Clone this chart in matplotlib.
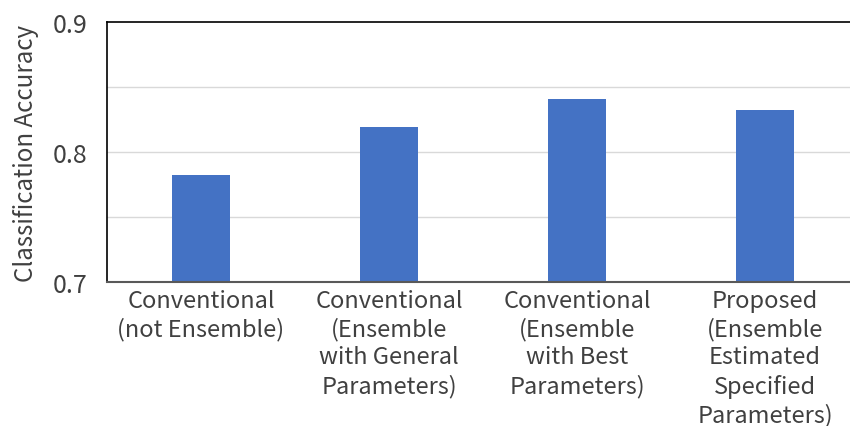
import matplotlib
matplotlib.use('Agg')
import matplotlib.pyplot as plt

plt.rcParams['font.family'] = ['Noto Sans CJK JP', 'DejaVu Sans']

# データ
categories = [
    'Conventional\n(not Ensemble)',
    'Conventional\n(Ensemble\nwith General\nParameters)',
    'Conventional\n(Ensemble\nwith Best\nParameters)',
    'Proposed\n(Ensemble\nEstimated\nSpecified\nParameters)',
]
accuracy = [0.782, 0.819, 0.841, 0.832]
y_ticks = [0.7, 0.8, 0.9]
y_grid = [0.75, 0.8, 0.85]

fig = plt.figure(figsize=(8.5, 4.27), dpi=100)
ax = fig.add_axes([107 / 850, 1 - 283 / 427, 752 / 850, 260 / 427])

x = range(len(categories))
ax.bar(x, accuracy, width=0.31, color='#4472C4', zorder=2)

for g in y_grid:
    ax.axhline(g, color='#D9D9D9', linewidth=1, zorder=1)

ax.set_xlim(-0.5, len(categories) - 0.5)
ax.set_ylim(0.7, 0.9)
ax.set_yticks(y_ticks)
ax.set_yticklabels([f'{t:.1f}' for t in y_ticks], fontsize=18, color='#404040')
ax.set_xticks(list(x))
ax.set_xticklabels(categories, fontsize=17, color='#404040', linespacing=1.27, va='top')
ax.tick_params(axis='both', length=0)
ax.tick_params(axis='x', pad=5)
ax.tick_params(axis='y', pad=14)

ax.set_ylabel('Classification Accuracy', fontsize=17.4, color='#404040', labelpad=10)

ax.spines['left'].set_color('black')
ax.spines['top'].set_color('black')
ax.spines['bottom'].set_color('#595959')
ax.spines['left'].set_linewidth(1.2)
ax.spines['top'].set_linewidth(1.2)
ax.spines['bottom'].set_linewidth(1.5)
ax.spines['right'].set_visible(False)

fig.savefig('out.png', dpi=100)
